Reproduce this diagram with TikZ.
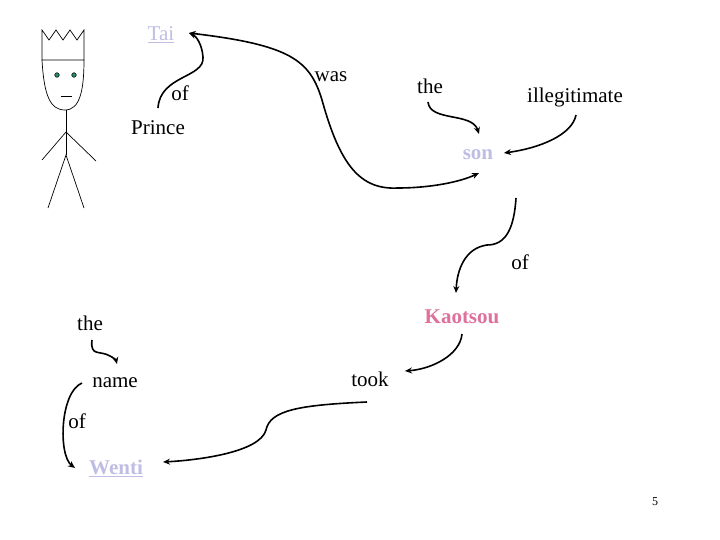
\documentclass[tikz,border=0pt]{standalone}
\usepackage{fontspec}
\setmainfont{Liberation Serif}
\usetikzlibrary{arrows.meta}
\definecolor{lav}{RGB}{190,190,228}
\definecolor{pinkk}{RGB}{222,112,156}
\definecolor{eye}{RGB}{40,140,100}
\begin{document}
\begin{tikzpicture}[x=1pt,y=-1pt,
  w/.style={inner sep=0pt,font=\fontsize{21}{24}\selectfont},
  lk/.style={w,text=lav},
  arr/.style={line width=1.6pt,-{Stealth[length=7pt,width=6pt]}},
  fig/.style={line width=0.7pt}]
\useasboundingbox (0,0) rectangle (720,540);
\node[lk] (tai) at (161,35) {\underline{Tai}};
\node[w] (of1) at (180,93) {of};
\node[w] (prince) at (158,128) {Prince};
\node[w] (was) at (331,77) {was};
\node[w] (the1) at (430,86) {the};
\node[w] (ill) at (575,97) {illegitimate};
\node[lk,font=\fontsize{21}{24}\selectfont\bfseries] (son) at (478,155) {son};
\node[w] (of2) at (520,262) {of};
\node[w,text=pinkk,font=\fontsize{21}{24}\selectfont\bfseries] (kao) at (462,317) {Kaotsou};
\node[w] (the2) at (90,323) {the};
\node[w] (name) at (115,383) {name};
\node[w] (took) at (370,379) {took};
\node[w] (of3) at (77,421) {of};
\node[lk,font=\fontsize{21}{24}\selectfont\bfseries] (wenti) at (116,468) {\underline{Wenti}};
\node[inner sep=0pt,font=\fontsize{12}{14}\selectfont] (pg) at (655,502) {5};
% connectors
\coordinate (p1) at (158,108);
\coordinate (t1) at (189,33);
\draw[arr] (p1) .. controls (160,75) and (205,78) .. (203,57) .. controls (202,44) and (196,36) .. (t1);
\coordinate (s1) at (479,173);
\draw[arr,{Stealth[length=7pt,width=6pt]}-{Stealth[length=7pt,width=6pt]}] (t1) .. controls (290,45) and (310,60) .. (322,100) .. controls (340,165) and (360,190) .. (398,188) .. controls (430,188) and (460,182) .. (s1);
\draw[arr] (428,102) .. controls (430,122) and (472,112) .. (479,134);
\draw[arr] (576,115) .. controls (572,135) and (540,148) .. (504,153);
\draw[arr] (516,198) .. controls (514,230) and (505,245) .. (487,245) .. controls (465,248) and (457,270) .. (456,293);
\draw[arr] (462,334) .. controls (460,355) and (432,369) .. (405,371);
\draw[arr] (367,402) .. controls (300,405) and (270,410) .. (266,430) .. controls (260,452) and (200,460) .. (163,462);
\draw[arr] (92,340) .. controls (90,357) and (100,350) .. (110,356) .. controls (114,358) and (116,360) .. (117,364);
\draw[arr] (82,383) .. controls (60,392) and (58,455) .. (75,468);
% stick figure
\draw[fig] (42,60) -- (42,30) -- (49,40) -- (56,30) -- (63,40) -- (70,30) -- (77,40) -- (84,30) -- (84,60) -- cycle;
\draw[fig] (42,60) .. controls (44,95) and (50,110) .. (65,110) .. controls (80,110) and (84,90) .. (84,60);
\fill[eye] (57,75) circle (2.3pt) (74,75) circle (2.3pt);
\draw[black,line width=0.5pt] (57,75) circle (2.3pt) (74,75) circle (2.3pt);
\draw[fig] (61,96) -- (72,96);
\draw[fig] (66,110) -- (66,155);
\draw[fig] (42,160) -- (66,132) -- (96,161);
\draw[fig] (48,208) -- (66,155) -- (84,208);
\end{tikzpicture}
\end{document}
